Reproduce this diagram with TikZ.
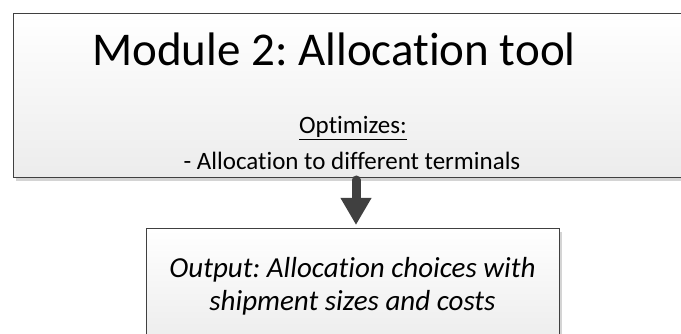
\documentclass[tikz,border=0pt]{standalone}
\usepackage{fontspec}
\setmainfont{Carlito}[Ligatures=NoCommon]
\frenchspacing
\usetikzlibrary{arrows.meta,shadings}
\definecolor{edge}{HTML}{404040}
\definecolor{boxlow}{HTML}{ECECEC}
\definecolor{shadowc}{HTML}{D4D4D4}
\tikzset{
  x=1pt,y=-1pt,
  panel/.style={draw=edge, line width=1pt, top color=white, bottom color=boxlow},
  shadowbox/.style={fill=shadowc, draw=none},
  txt/.style={inner sep=0pt, anchor=base, text=black},
  flow/.style={draw=edge, line width=9pt, line cap=round, -{Triangle[width=29pt,length=27pt]}}
}
\begin{document}
\begin{tikzpicture}
\useasboundingbox (0,0) rectangle (681,334);
% top box
\fill[shadowbox] (16,17) rectangle (698,181);
\draw[panel] (13,14) rectangle (695,178);
\coordinate (topbox) at (356,180);
% bottom box
\fill[shadowbox] (149,232) rectangle (562,345);
\draw[panel] (146,229) rectangle (559,345);
\coordinate (botbox) at (356,225);
% texts
\node[txt, font=\fontsize{47}{56}\selectfont] (title) at (334,66) {Module 2: Allocation tool};
\node[txt, font=\fontsize{25}{30}\selectfont] (opt) at (353,134) {\underline{Optimizes:}};
\node[txt, font=\fontsize{25}{30}\selectfont] (alloc) at (352,170) {- Allocation to different terminals};
\node[txt, font=\fontsize{29}{35}\itshape] (out1) at (352.5,277) {Output: Allocation choices with};
\node[txt, font=\fontsize{29}{35}\itshape] (out2) at (352.5,311) {shipment sizes and costs};
% arrow
\draw[flow] (topbox) -- (botbox);
\end{tikzpicture}
\end{document}
